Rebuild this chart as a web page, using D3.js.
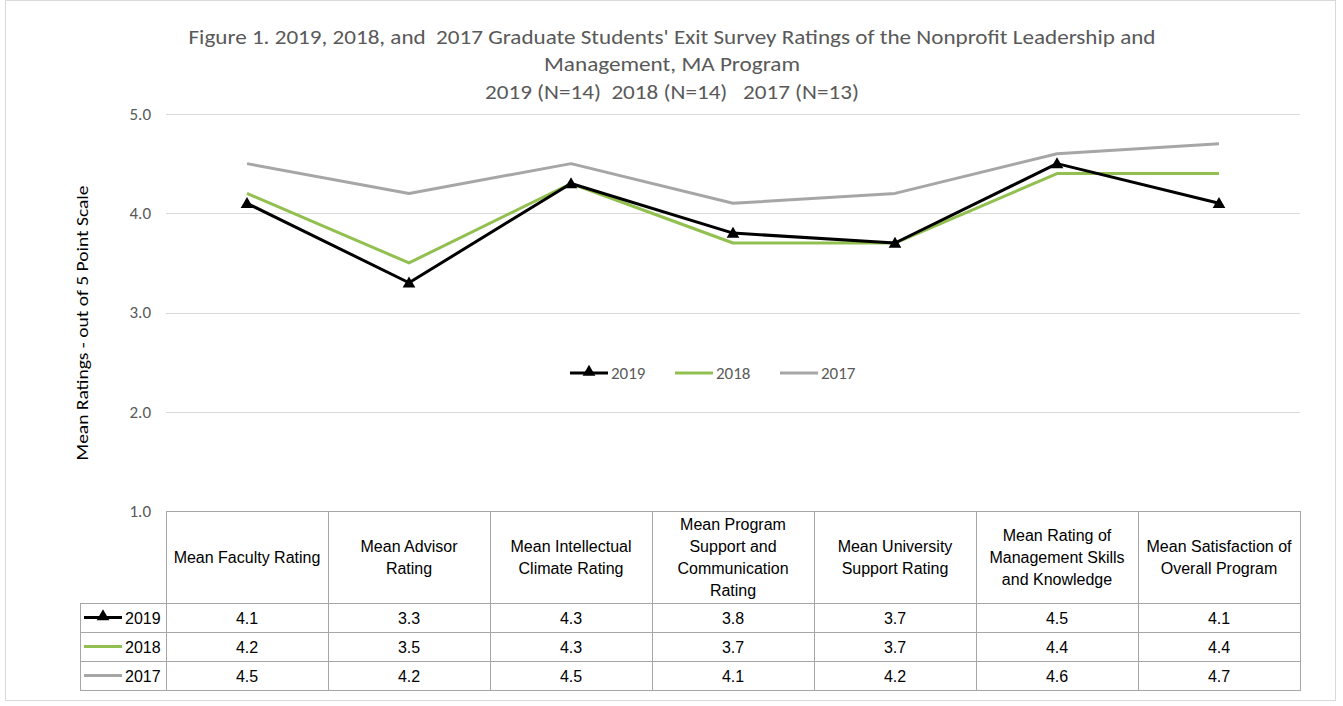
<!DOCTYPE html>
<html>
<head>
<meta charset="utf-8">
<script src="https://cdn.jsdelivr.net/npm/d3@7"></script>
<style>
  body { margin: 0; background: #fff; }
  svg { display: block; }
</style>
</head>
<body>
<div id="chart"></div>
<script>
(function () {
    'use strict';

    var categories = [
        "Mean Faculty Rating",
        "Mean Advisor Rating",
        "Mean Intellectual Climate Rating",
        "Mean Program Support and Communication Rating",
        "Mean University Support Rating",
        "Mean Rating of Management Skills and Knowledge",
        "Mean Satisfaction of Overall Program"
    ];
    // line breaks as they appear in the table header
    var categoryLines = [
        ["Mean Faculty Rating"],
        ["Mean Advisor", "Rating"],
        ["Mean Intellectual", "Climate Rating"],
        ["Mean Program", "Support and", "Communication", "Rating"],
        ["Mean University", "Support Rating"],
        ["Mean Rating of", "Management Skills", "and Knowledge"],
        ["Mean Satisfaction of", "Overall Program"]
    ];
    var years = ["2019", "2018", "2017"];
    var values2019 = [4.1, 3.3, 4.3, 3.8, 3.7, 4.5, 4.1];
    var values2018 = [4.2, 3.5, 4.3, 3.7, 3.7, 4.4, 4.4];
    var values2017 = [4.5, 4.2, 4.5, 4.1, 4.2, 4.6, 4.7];
    var yTicks = [1, 2, 3, 4, 5];

    var series = [
        { name: years[0], values: values2019, color: "#000000", marker: true },
        { name: years[1], values: values2018, color: "#92c050", marker: false },
        { name: years[2], values: values2017, color: "#a6a6a6", marker: false }
    ];

    var width = 1343, height = 706;
    var left = 166, right = 1300, top = 114, bottom = 511;
    var tableLeft = 80, headerBottom = 603, rowH = 29;
    var chartFont = "Calibri, Carlito, Lato, sans-serif";
    var tableFont = "Arial, 'Liberation Sans', sans-serif";

    var svg = d3.select("#chart").append("svg")
        .attr("width", width)
        .attr("height", height);

    // chart frame
    svg.append("rect")
        .attr("x", 5.5).attr("y", 0.5)
        .attr("width", 1330).attr("height", 700)
        .attr("fill", "none")
        .attr("stroke", "#d9d9d9");

    var x = d3.scaleBand().domain(categories).range([left, right]);
    var y = d3.scaleLinear().domain([1, 5]).range([bottom, top]);

    // gridlines
    svg.append("g")
        .selectAll("line")
        .data(yTicks.slice(1))
        .enter().append("line")
        .attr("x1", left).attr("x2", right)
        .attr("y1", function (d) { return Math.round(y(d)) + 0.5; })
        .attr("y2", function (d) { return Math.round(y(d)) + 0.5; })
        .attr("stroke", "#d9d9d9")
        .attr("stroke-width", 1);

    // y axis labels
    var yAxis = d3.axisLeft(y).tickValues(yTicks).tickFormat(d3.format(".1f")).tickSize(0).tickPadding(15);
    var gy = svg.append("g").attr("transform", "translate(" + left + ",0)").call(yAxis);
    gy.select(".domain").remove();
    gy.selectAll("text")
        .attr("fill", "#595959")
        .style("font-family", chartFont)
        .style("font-size", "17px");

    // y axis title
    svg.append("text")
        .attr("transform", "translate(88,323) rotate(-90)")
        .attr("text-anchor", "middle")
        .attr("textLength", 275)
        .attr("lengthAdjust", "spacingAndGlyphs")
        .style("font-family", chartFont)
        .style("font-size", "17px")
        .attr("fill", "#000")
        .text("Mean Ratings - out of 5 Point Scale");

    // title
    var titleLines = [
        "Figure 1. 2019, 2018, and  2017 Graduate Students' Exit Survey Ratings of the Nonprofit Leadership and",
        "Management, MA Program",
        "2019 (N=14)  2018 (N=14)   2017 (N=13)"
    ];
    var titleWidths = [967, 256, 374];
    var titleBase = [44, 71, 99];
    svg.append("g").selectAll("text")
        .data(titleLines)
        .enter().append("text")
        .attr("x", 672)
        .attr("y", function (d, i) { return titleBase[i]; })
        .attr("text-anchor", "middle")
        .attr("textLength", function (d, i) { return titleWidths[i]; })
        .attr("lengthAdjust", "spacingAndGlyphs")
        .attr("fill", "#595959")
        .style("font-family", chartFont)
        .style("font-size", "20px")
        .style("white-space", "pre")
        .text(function (d) { return d; });

    // lines
    var line = d3.line()
        .x(function (d, i) { return x(categories[i]) + x.bandwidth() / 2; })
        .y(function (d) { return y(d); });

    series.slice().reverse().forEach(function (s) {
        svg.append("path")
            .datum(s.values)
            .attr("d", line)
            .attr("fill", "none")
            .attr("stroke", s.color)
            .attr("stroke-width", 3)
            .attr("stroke-linejoin", "round");
    });

    var tri = d3.symbol().type(d3.symbolTriangle).size(70);
    svg.append("g").selectAll("path")
        .data(values2019)
        .enter().append("path")
        .attr("d", tri)
        .attr("transform", function (d, i) {
            return "translate(" + (x(categories[i]) + x.bandwidth() / 2) + "," + (y(d) + 1) + ")";
        })
        .attr("fill", "#000");

    // legend
    function legendKey(g, s, lx, ly, len) {
        g.append("line")
            .attr("x1", lx).attr("x2", lx + len)
            .attr("y1", ly).attr("y2", ly)
            .attr("stroke", s.color).attr("stroke-width", 3);
        if (s.marker) {
            g.append("path")
                .attr("d", tri)
                .attr("transform", "translate(" + (lx + len / 2) + "," + (ly - 1) + ")")
                .attr("fill", "#000");
        }
    }
    var legendX = [570, 675, 780];
    var lg = svg.append("g");
    series.forEach(function (s, i) {
        legendKey(lg, s, legendX[i], 373, 38);
        lg.append("text")
            .attr("x", legendX[i] + 41)
            .attr("y", 379)
            .attr("fill", "#595959")
            .style("font-family", chartFont)
            .style("font-size", "17px")
            .text(s.name);
    });

    // data table
    var tg = svg.append("g");
    var gridColor = "#a6a6a6";
    var tableBottom = headerBottom + rowH * 3;
    // header box
    tg.append("rect")
        .attr("x", left + 0.5).attr("y", bottom + 0.5)
        .attr("width", right - left).attr("height", headerBottom - bottom)
        .attr("fill", "none").attr("stroke", gridColor);
    // row area
    tg.append("rect")
        .attr("x", tableLeft + 0.5).attr("y", headerBottom + 0.5)
        .attr("width", right - tableLeft).attr("height", tableBottom - headerBottom)
        .attr("fill", "none").attr("stroke", gridColor);
    // vertical lines
    tg.selectAll("line.v")
        .data(categories)
        .enter().append("line")
        .attr("class", "v")
        .attr("x1", function (d) { return Math.round(x(d)) + 0.5; })
        .attr("x2", function (d) { return Math.round(x(d)) + 0.5; })
        .attr("y1", bottom).attr("y2", tableBottom)
        .attr("stroke", gridColor);
    // horizontal lines
    tg.selectAll("line.h")
        .data([1, 2])
        .enter().append("line")
        .attr("class", "h")
        .attr("x1", tableLeft).attr("x2", right)
        .attr("y1", function (d) { return headerBottom + d * rowH + 0.5; })
        .attr("y2", function (d) { return headerBottom + d * rowH + 0.5; })
        .attr("stroke", gridColor);

    // header text
    categoryLines.forEach(function (lines, i) {
        var cx = x(categories[i]) + x.bandwidth() / 2;
        var cy = (bottom + headerBottom) / 2;
        var lh = 22;
        lines.forEach(function (t, j) {
            tg.append("text")
                .attr("x", cx)
                .attr("y", cy + (j - (lines.length - 1) / 2) * lh + 6)
                .attr("text-anchor", "middle")
                .attr("fill", "#000")
                .style("font-family", tableFont)
                .style("font-size", "16px")
                .text(t);
        });
    });

    // rows
    series.forEach(function (s, r) {
        var ry = headerBottom + r * rowH + rowH / 2;
        legendKey(tg, s, 84, ry, 38);
        tg.append("text")
            .attr("x", 125)
            .attr("y", ry + 6)
            .attr("fill", "#000")
            .style("font-family", tableFont)
            .style("font-size", "16px")
            .text(s.name);
        s.values.forEach(function (v, i) {
            tg.append("text")
                .attr("x", x(categories[i]) + x.bandwidth() / 2)
                .attr("y", ry + 6)
                .attr("text-anchor", "middle")
                .attr("fill", "#000")
                .style("font-family", tableFont)
                .style("font-size", "16px")
                .text(d3.format(".1f")(v));
        });
    });
})();
</script>
</body>
</html>
